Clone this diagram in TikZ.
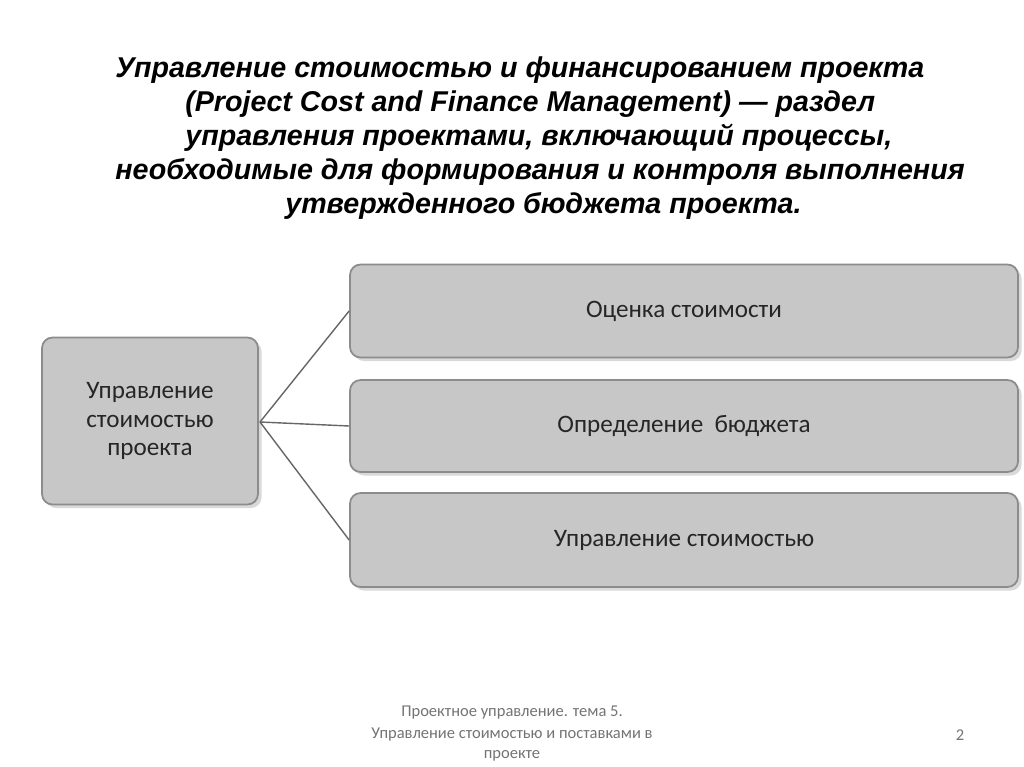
\documentclass[tikz,border=0pt]{standalone}
\usepackage{fontspec}
\setmainfont{Liberation Sans}
\newfontfamily\carlitofam{Carlito}
\usetikzlibrary{shadows}
\begin{document}
\begin{tikzpicture}[x=0.02cm,y=-0.02cm,
 tl/.style={anchor=west,font=\fontsize{16.3}{18}\selectfont\bfseries\itshape,inner sep=0},
 gbox/.style={draw=black!45,line width=1pt,rounded corners=6pt,fill=black!22,text=black!85,font=\carlitofam\fontsize{14.3}{16}\selectfont,align=center,drop shadow={opacity=0.3,shadow xshift=2pt,shadow yshift=-2pt}},
 foot/.style={font=\carlitofam\fontsize{9.4}{11}\selectfont,text=black!55,inner sep=0}]
\useasboundingbox (0,0) rectangle (1024,767);
\node[tl] (t1) at (115,70) {Управление стоимостью и финансированием проекта};
\node[tl] (t2) at (185,104) {(Project Cost and Finance Management) — раздел};
\node[tl] (t3) at (185,138) {управления проектами, включающий процессы,};
\node[tl] (t4) at (115,172) {необходимые для формирования и контроля выполнения};
\node[tl] (t5) at (285,206) {утвержденного бюджета проекта.};
\node[gbox,minimum width=216*0.02cm,minimum height=167*0.02cm] (L) at (150,421) {Управление\\стоимостью\\проекта};
\node[gbox,minimum width=668*0.02cm,minimum height=93*0.02cm] (a) at (684,311) {Оценка стоимости};
\node[gbox,minimum width=668*0.02cm,minimum height=92*0.02cm] (b) at (684,426) {Определение\ \ бюджета};
\node[gbox,minimum width=668*0.02cm,minimum height=94*0.02cm] (c) at (684,540) {Управление стоимостью};
\coordinate (o) at (260,422);
\foreach \n in {a,b,c} \draw[black!60,line width=0.8pt] (o) -- (\n.west);
\node[foot] (f1) at (512,713) {Проектное управление. тема 5.};
\node[foot] (f2) at (512,735) {Управление стоимостью и поставками в};
\node[foot] (f3) at (512,756) {проекте};
\node[foot] (pn) at (960,735) {2};
\end{tikzpicture}
\end{document}
